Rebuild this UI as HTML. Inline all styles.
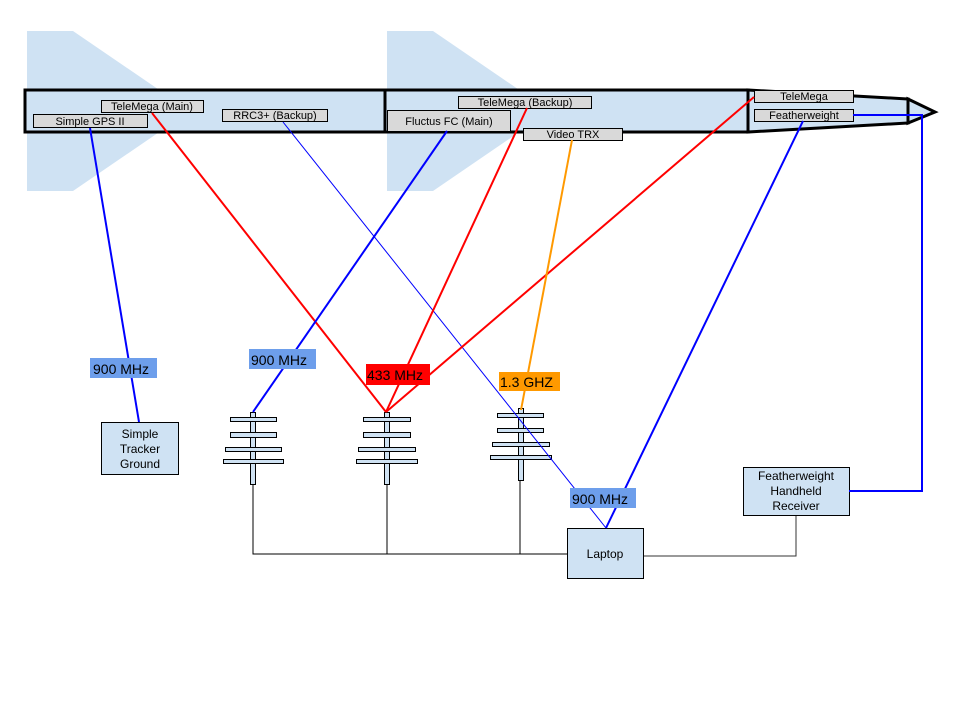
<!DOCTYPE html>
<html><head><style>body{margin:0;background:#fff}svg{display:block}text{font-family:"Liberation Sans",sans-serif}</style></head><body>
<svg width="960" height="720" viewBox="0 0 960 720" xmlns="http://www.w3.org/2000/svg">
<g fill="#cfe2f3">
<polygon points="27,31 73,31 190,111 73,191 27,191"/>
<polygon points="387,31 433,31 550,111 433,191 387,191"/>
</g>
<g stroke="#000" stroke-width="3" fill="#cfe2f3">
<rect x="25" y="90" width="360" height="42"/>
<rect x="385" y="90" width="363" height="42"/>
<polygon points="748,90 908,99 908,123 748,132"/>
<polygon points="908,99 935,112 908,123"/>
</g>
<g font-size="11" fill="#000" text-anchor="middle">
<g stroke="#000" stroke-width="1" fill="#d9d9d9">
<rect x="33.5" y="114.5" width="114" height="13"/>
<rect x="101.5" y="100.5" width="102" height="12"/>
<rect x="222.5" y="109.5" width="105" height="12"/>
<rect x="387.5" y="110.5" width="123" height="21"/>
<rect x="458.5" y="96.5" width="133" height="12"/>
<rect x="523.5" y="128.5" width="99" height="12"/>
<rect x="754.5" y="90.5" width="99" height="12"/>
<rect x="754.5" y="109.5" width="99" height="12"/>
</g>
<text x="90" y="125">Simple GPS II</text>
<text x="152" y="110">TeleMega (Main)</text>
<text x="275" y="119">RRC3+ (Backup)</text>
<text x="449" y="125">Fluctus FC (Main)</text>
<text x="525" y="106">TeleMega (Backup)</text>
<text x="573" y="138">Video TRX</text>
<text x="804" y="100">TeleMega</text>
<text x="804" y="119">Featherweight</text>
</g>
<g stroke="#000" stroke-width="1" fill="none">
<polyline points="253,484 253,554 567,554"/>
<line x1="387" y1="484" x2="387" y2="554"/>
<line x1="520" y1="480" x2="520" y2="554"/>
<polyline points="643,556 796,556 796,515" stroke="#333"/>
</g>
<g stroke="#000" stroke-width="1" fill="#cfe2f3">
<rect x="250.5" y="412.5" width="5" height="72"/>
<rect x="230.5" y="417.5" width="46" height="4"/>
<rect x="230.5" y="432.5" width="46" height="5"/>
<rect x="225.5" y="447.5" width="56" height="4"/>
<rect x="223.5" y="459.5" width="60" height="4"/>
<rect x="384.5" y="412.5" width="5" height="72"/>
<rect x="363.5" y="417.5" width="47" height="4"/>
<rect x="363.5" y="432.5" width="47" height="5"/>
<rect x="358.5" y="447.5" width="57" height="4"/>
<rect x="356.5" y="459.5" width="61" height="4"/>
<rect x="518.5" y="408.5" width="5" height="72"/>
<rect x="497.5" y="413.5" width="46" height="4"/>
<rect x="497.5" y="428.5" width="46" height="4"/>
<rect x="492.5" y="442.5" width="57" height="4"/>
<rect x="490.5" y="455.5" width="61" height="4"/>
<rect x="101.5" y="422.5" width="77" height="52"/>
<rect x="567.5" y="528.5" width="76" height="50"/>
<rect x="743.5" y="467.5" width="106" height="48"/>
</g>
<g fill="none">
<line x1="90" y1="128" x2="139" y2="422" stroke="#0000ff" stroke-width="2"/>
<line x1="152" y1="113" x2="386" y2="412" stroke="#ff0000" stroke-width="2"/>
<line x1="283" y1="122" x2="606" y2="528" stroke="#0000ff" stroke-width="1"/>
<line x1="447" y1="131" x2="253" y2="412" stroke="#0000ff" stroke-width="2"/>
<line x1="527" y1="108" x2="386" y2="412" stroke="#ff0000" stroke-width="2"/>
<line x1="754" y1="97" x2="386" y2="412" stroke="#ff0000" stroke-width="2"/>
<line x1="572" y1="140" x2="521" y2="410" stroke="#ff9900" stroke-width="2"/>
<line x1="803" y1="121" x2="606" y2="528" stroke="#0000ff" stroke-width="2"/>
<polyline points="853,115 922,115 922,491 849,491" stroke="#0000ff" stroke-width="2"/>
</g>
<rect x="90" y="358" width="67" height="20" fill="#6d9eeb"/>
<rect x="249" y="349" width="67" height="20" fill="#6d9eeb"/>
<rect x="366" y="364" width="64" height="21" fill="#ff0000"/>
<rect x="499" y="372" width="61" height="19" fill="#ff9900"/>
<rect x="570" y="488" width="66" height="20" fill="#6d9eeb"/>
<g font-size="14" fill="#000">
<text x="93" y="374">900 MHz</text>
<text x="251" y="365">900 MHz</text>
<text x="367" y="380">433 MHz</text>
<text x="500" y="387">1.3 GHZ</text>
<text x="572" y="504">900 MHz</text>
</g>
<g font-size="12" fill="#000" text-anchor="middle">
<text x="140" y="438">Simple</text>
<text x="140" y="453">Tracker</text>
<text x="140" y="468">Ground</text>
<text x="605" y="558">Laptop</text>
<text x="796" y="480">Featherweight</text>
<text x="796" y="495">Handheld</text>
<text x="796" y="510">Receiver</text>
</g>
</svg>
</body></html>
